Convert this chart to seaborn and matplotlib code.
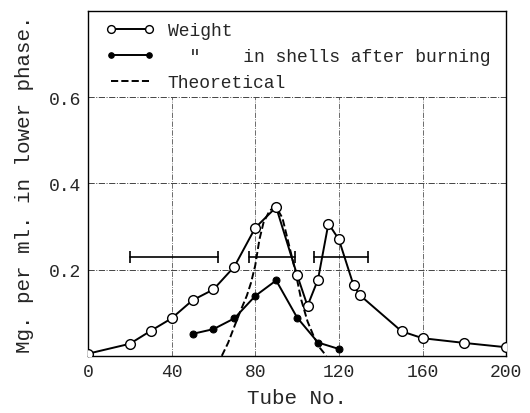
import matplotlib
matplotlib.use("Agg")
from matplotlib import pyplot as plt
import pandas as pd
import seaborn as sns

# weight (open circles)
weight_tube = [0, 20, 30, 40, 50, 60, 70, 80, 90, 100, 105, 110, 115, 120, 127, 130, 150, 160, 180, 200]
weight_mg = [0.005, 0.028, 0.058, 0.087, 0.129, 0.154, 0.207, 0.297, 0.345, 0.188, 0.116, 0.177,
             0.307, 0.270, 0.164, 0.141, 0.057, 0.041, 0.030, 0.020]

# weight in shells after burning (filled dots)
shell_tube = [50, 60, 70, 80, 90, 100, 110, 120]
shell_mg = [0.051, 0.062, 0.087, 0.139, 0.175, 0.089, 0.031, 0.016]

# theoretical curve (dashed)
theo_tube = [64, 67, 70, 73, 76, 78, 80, 82, 84, 87, 90, 93, 96, 99, 102, 105, 108, 111, 114]
theo_mg = [0.0, 0.03, 0.068, 0.105, 0.14, 0.17, 0.21, 0.27, 0.31, 0.338, 0.345, 0.32, 0.26,
           0.20, 0.13, 0.08, 0.045, 0.018, 0.0]

# horizontal range bars
bar_start = [20, 77, 108]
bar_end = [62, 99, 134]
bar_y = [0.23, 0.23, 0.23]

sns.set_style("white")
plt.rcParams['font.family'] = ['Liberation Mono', 'DejaVu Sans Mono']

fig = plt.figure(figsize=(5.3, 4.14), dpi=100)
ax = fig.add_axes([0.166, 0.138, 0.789, 0.833])

df_w = pd.DataFrame({'tube': weight_tube, 'mg': weight_mg})
df_s = pd.DataFrame({'tube': shell_tube, 'mg': shell_mg})
df_t = pd.DataFrame({'tube': theo_tube, 'mg': theo_mg})

# grid
for gx in [40, 80, 120, 160]:
    ax.plot([gx, gx], [0, 0.6], color='#555555', lw=0.6, ls='-.', zorder=0)
for gy in [0.2, 0.4, 0.6]:
    ax.axhline(gy, color='#444444', lw=0.7, ls='-.', zorder=0)

sns.lineplot(data=df_t, x='tube', y='mg', ax=ax, color='black', lw=1.4,
             linestyle='--', label='Theoretical', zorder=2)
sns.lineplot(data=df_w, x='tube', y='mg', ax=ax, color='black', lw=1.4, marker='o',
             markersize=7, markerfacecolor='white', markeredgecolor='black',
             markeredgewidth=1.0, label='Weight', zorder=3)
sns.lineplot(data=df_s, x='tube', y='mg', ax=ax, color='black', lw=1.4, marker='o',
             markersize=5, markerfacecolor='black', markeredgecolor='black',
             label='  "    in shells after burning', zorder=3)

for x0, x1, yy in zip(bar_start, bar_end, bar_y):
    ax.plot([x0, x1], [yy, yy], color='black', lw=1.2, marker='|', markersize=8,
            markeredgewidth=1.2)

ax.set_xlim(0, 200)
ax.set_ylim(0, 0.8)
ax.set_xticks([0, 40, 80, 120, 160, 200])
ax.set_yticks([0.2, 0.4, 0.6])
ax.set_yticklabels(['0.2', '0.4', '0.6'])
ax.tick_params(direction='in', length=0, labelsize=13, pad=5)
for s in ax.spines.values():
    s.set_color('black')
    s.set_linewidth(1.0)

ax.set_xlabel('Tube No.', fontsize=15, labelpad=6)
ax.set_ylabel('Mg. per ml. in lower phase.', fontsize=15, labelpad=11)

handles, labels = ax.get_legend_handles_labels()
order = [1, 2, 0]
leg = ax.legend([handles[i] for i in order], [labels[i] for i in order],
                loc='upper left', bbox_to_anchor=(0.041, 0.968),
                borderaxespad=0, frameon=False, fontsize=13, numpoints=2,
                markerscale=0.8, handlelength=2.75, handletextpad=0.72, labelspacing=0.5,
                borderpad=0)

fig.savefig('out.png', dpi=100)
